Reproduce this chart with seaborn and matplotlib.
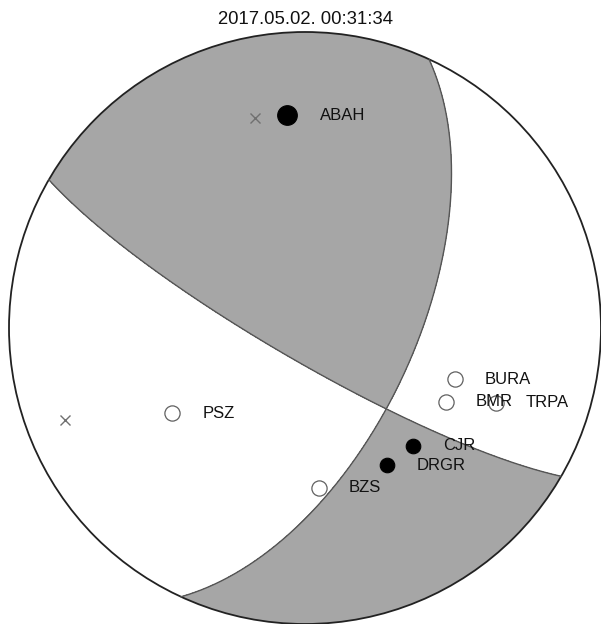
import numpy as np
import pandas as pd
import matplotlib
matplotlib.use("Agg")
import matplotlib.pyplot as plt
import seaborn as sns

# Event and mechanism
title = "2017.05.02. 00:31:34"
t_axis = (346.6, 27.8)   # trend, plunge (deg)
p_axis = (248.6, 14.0)

# Stations: azimuth (deg), takeoff angle (deg), polarity (1 = compression), big marker
stations = ["ABAH", "BURA", "BMR", "TRPA", "CJR", "DRGR", "BZS", "PSZ"]
azimuths = [355.2, 108.8, 117.7, 111.4, 137.5, 149.2, 175.0, 237.3]
takeoffs = [61.4, 44.5, 44.7, 58.7, 44.8, 44.8, 45.1, 44.3]
polarity = [1, 0, 0, 0, 1, 1, 0, 0]
big = [1, 0, 0, 0, 0, 0, 0, 0]


def vec(trend, plunge):
    t, p = np.radians(trend), np.radians(plunge)
    return np.array([np.cos(p) * np.cos(t), np.cos(p) * np.sin(t), np.sin(p)])


def project(v):
    # lower hemisphere equal-area; v = (N, E, Down)
    v = np.where(v[2] < 0, -v, v) if v.ndim == 1 else v
    inc = np.arccos(np.clip(v[2], -1, 1))
    r = np.sqrt(2) * np.sin(inc / 2)
    az = np.arctan2(v[1], v[0])
    return r * np.sin(az), r * np.cos(az)


T = vec(*t_axis)
P = vec(*p_axis)
P = P - np.dot(P, T) * T
P /= np.linalg.norm(P)

sns.set_style("white")
plt.rcParams["font.family"] = ["Liberation Sans", "DejaVu Sans"]

fig = plt.figure(figsize=(6.01, 6.24), dpi=100)
ax = fig.add_axes([0, 0, 1, 1])
cx, cy, R = 305, 328, 296
ax.set_xlim(-cx / R, (601 - cx) / R)
ax.set_ylim((cy - 624) / R, cy / R)
ax.axis("off")

# compressional quadrants
g = np.linspace(-1.01, 1.01, 900)
X, Y = np.meshgrid(g, g)
r = np.clip(np.hypot(X, Y), 0, 1)
inc = 2 * np.arcsin(r / np.sqrt(2))
az = np.arctan2(X, Y)
V = np.stack([np.sin(inc) * np.cos(az), np.sin(inc) * np.sin(az), np.cos(inc)])
amp = np.tensordot(T, V, 1) ** 2 - np.tensordot(P, V, 1) ** 2
circ = plt.Circle((0, 0), 1, transform=ax.transData, facecolor="none")
cf = ax.contourf(X, Y, amp, levels=[0, 10], colors=["#a6a6a6"])
cf.set_clip_path(circ)

# nodal planes
tt = np.linspace(0, 2 * np.pi, 2000)
for n in [(T + P) / np.sqrt(2), (T - P) / np.sqrt(2)]:
    a = np.cross(n, [0, 0, 1.0])
    a /= np.linalg.norm(a)
    b = np.cross(n, a)
    pts = np.outer(a, np.cos(tt)) + np.outer(b, np.sin(tt))
    pts = pts[:, pts[2] >= 0]
    order = np.argsort(np.arctan2(np.dot(b, pts), np.dot(a, pts)))
    px, py = project(pts[:, order])
    ax.plot(px, py, color="#555555", lw=1.0)

ax.add_patch(plt.Circle((0, 0), 1, fill=False, edgecolor="#222222", lw=1.3, clip_on=False))

# P and T axes
for ax_v in (T, P):
    x, y = project(ax_v)
    ax.plot(x, y, marker="x", ms=7, mew=1.0, color="#707070", ls="none")

# stations
sx, sy = project(np.array([vec(a, 90 - t) for a, t in zip(azimuths, takeoffs)]).T)
df = pd.DataFrame({"x": sx, "y": sy, "name": stations, "pol": polarity, "big": big})
opn = df[df.pol == 0]
cmp_ = df[(df.pol == 1) & (df.big == 0)]
bigc = df[(df.pol == 1) & (df.big == 1)]
sns.scatterplot(data=opn, x="x", y="y", s=120, facecolor="white", edgecolor="#606060",
                linewidth=0.9, ax=ax, zorder=3, legend=False)
sns.scatterplot(data=cmp_, x="x", y="y", s=110, color="black", edgecolor="black",
                linewidth=0.8, ax=ax, zorder=3, legend=False)
sns.scatterplot(data=bigc, x="x", y="y", s=200, color="black", edgecolor="black",
                linewidth=0.8, ax=ax, zorder=3, legend=False)
ax.set_xlabel("")
ax.set_ylabel("")
for _, row in df.iterrows():
    off = (33 if row.big else 30) / R
    ax.text(row.x + off, row.y, row["name"], fontsize=12, ha="left", va="center",
            color="#111111", zorder=4)

fig.text(cx / 601, 1 - 20 / 624, title, ha="center", va="center", fontsize=13.3, color="#111111")

fig.savefig("out.png", dpi=100)
